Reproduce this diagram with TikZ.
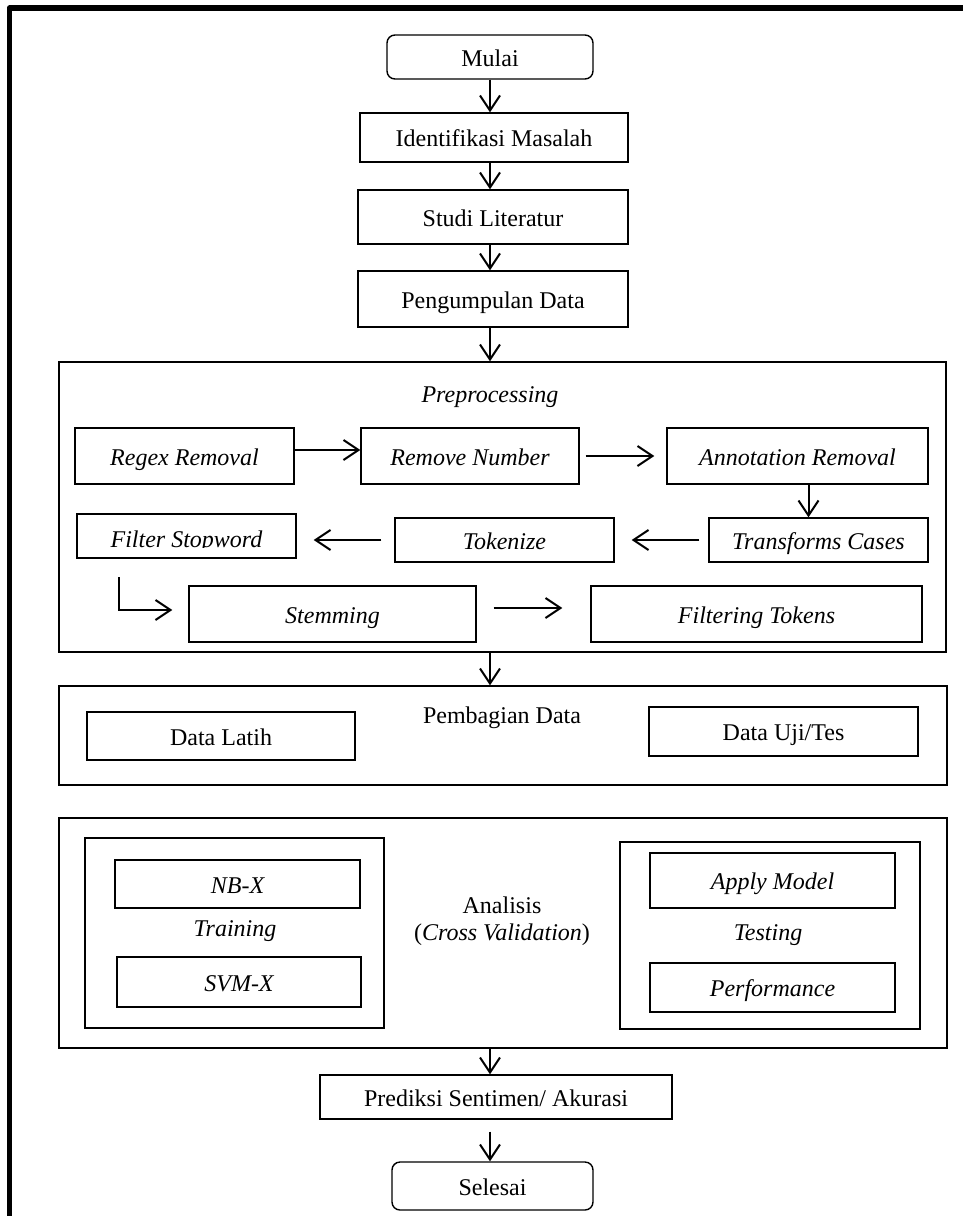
\documentclass[tikz,border=0pt]{standalone}
\usepackage{fontspec}
\setmainfont{Liberation Serif}
\usetikzlibrary{positioning, arrows, arrows.meta}

\tikzset{
  txt/.style={font=\fontsize{24}{27.5}\selectfont, inner sep=0pt},
  itxt/.style={txt, font=\fontsize{24}{27.5}\selectfont\itshape},
  box/.style={draw, line width=1.4pt, inner sep=0pt, text height=18pt, text depth=0pt},
  rbox/.style={box, rounded corners=8pt},
  grp/.style={draw, line width=1.4pt},
  arw/.style={line width=2pt, -{Straight Barb[length=15pt,width=20pt]}},
}

\begin{document}
\begin{tikzpicture}[x=1pt, y=-1pt]
\useasboundingbox (0,0) rectangle (962,1216);
\draw[line width=5.5pt, line join=round] (9.5,1230) |- (975,8);

\node[txt, rbox, minimum width=206, minimum height=44] (mulai) at (490,57) {Mulai};
\node[txt, box, minimum width=268, minimum height=49] (ident) at (494,137.5) {Identifikasi Masalah};
\node[txt, box, minimum width=270, minimum height=54] (studi) at (493,217) {Studi Literatur};
\node[txt, box, minimum width=270, minimum height=56] (kumpul) at (493,299) {Pengumpulan Data};

\node[grp, minimum width=887, minimum height=290] (prep) at (502.5,507) {};
\node[itxt] (preplbl) at (490,397) {Preprocessing};
\node[itxt, box, minimum width=219, minimum height=56] (regex) at (184.5,456) {Regex Removal};
\node[itxt, box, minimum width=218, minimum height=56] (remnum) at (470,456) {Remove Number};
\node[itxt, box, minimum width=261, minimum height=56] (annot) at (797.5,456) {Annotation Removal};
\node[itxt, box, minimum width=219, minimum height=44] (transf) at (818.5,540) {Transforms Cases};
\node[itxt, box, minimum width=219, minimum height=44] (token) at (504.5,540) {Tokenize};
\node[box, minimum width=219, minimum height=44] (filter) at (186.5,536) {};
\begin{scope}
\clip (filter.north west) rectangle (296,547.5);
\node[itxt, anchor=base] (filterlbl) at (186.5,547) {Filter Stopword};
\end{scope}
\node[itxt, box, minimum width=287, minimum height=56] (stem) at (332.5,614) {Stemming};
\node[itxt, box, minimum width=331, minimum height=56] (filtok) at (756.5,614) {Filtering Tokens};
\coordinate (elbow) at (119,577);

\node[grp, minimum width=888, minimum height=99] (bagi) at (503,735.5) {};
\node[txt] (bagilbl) at (502,718) {Pembagian Data};
\node[txt, box, minimum width=268, minimum height=48] (latih) at (221,736) {Data Latih};
\node[txt, box, minimum width=269, minimum height=49] (uji) at (783.5,731.5) {Data Uji/Tes};

\node[grp, minimum width=888, minimum height=230] (anal) at (503,933) {};
\node[txt, align=center] (anallbl) at (502,921) {Analisis\\(\textit{Cross Validation})};
\node[grp, minimum width=299, minimum height=190] (train) at (234.5,933) {};
\node[itxt, box, minimum width=245, minimum height=48] (nbx) at (237.5,884) {NB-X};
\node[itxt] (trainlbl) at (235,931) {Training};
\node[itxt, box, minimum width=244, minimum height=50] (svmx) at (239,982) {SVM-X};
\node[grp, minimum width=300, minimum height=187] (test) at (770,935.5) {};
\node[itxt, box, minimum width=245, minimum height=55] (apply) at (772.5,880.5) {Apply Model};
\node[itxt] (testlbl) at (768,935) {Testing};
\node[itxt, box, minimum width=245, minimum height=49] (perf) at (772.5,987.5) {Performance};

\node[txt, box, minimum width=352, minimum height=44] (pred) at (496,1097) {Prediksi Sentimen/ Akurasi};
\node[txt, rbox, minimum width=201, minimum height=48] (selesai) at (492.5,1186) {Selesai};

\path
    (mulai) edge[arw] (mulai |- ident.north)
    (ident.south -| mulai) edge[arw] (mulai |- studi.north)
    (studi.south -| mulai) edge[arw] (mulai |- kumpul.north)
    (kumpul.south -| mulai) edge[arw] (mulai |- prep.north)
    (prep.south -| mulai) edge[arw] (mulai |- bagi.north)
    (anal.south -| mulai) edge[arw] (mulai |- pred.north)
    ([yshift=-12pt]pred.south -| mulai) edge[arw] (mulai |- selesai.north)
    ([yshift=6pt]regex.east) edge[arw] ([yshift=6pt]remnum.west)
    (remnum) edge[arw, shorten <=6pt, shorten >=12pt] (annot)
    ([xshift=11pt]annot.south) edge[arw] ([xshift=11pt]annot.south |- transf.north)
    (transf) edge[arw, shorten <=9pt, shorten >=17pt] (token)
    (token) edge[arw, shorten <=13pt, shorten >=17pt] (filter.east |- token)
    ([yshift=6pt]stem.east) edge[arw, shorten <=17pt, shorten >=28pt] ([yshift=6pt]filtok.west)
    ;
\draw[arw] (elbow) |- ([xshift=-16pt,yshift=4pt]stem.west);
\end{tikzpicture}
\end{document}
